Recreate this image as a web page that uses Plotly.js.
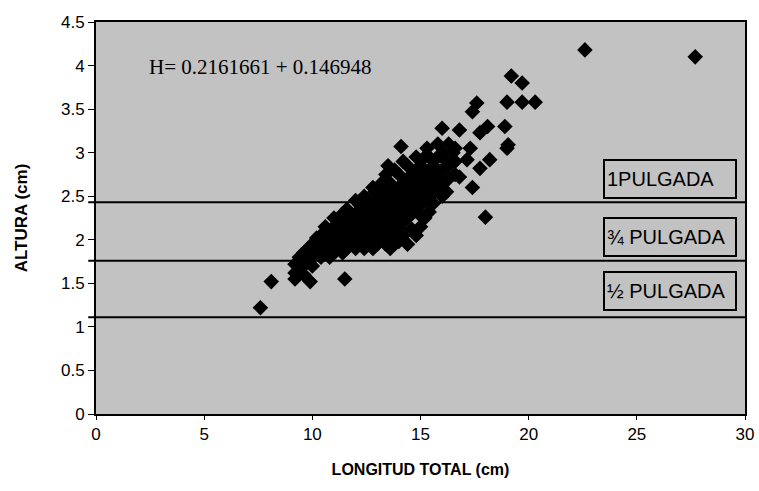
<!DOCTYPE html>
<html>
<head>
<meta charset="utf-8">
<script src="https://cdn.plot.ly/plotly-3.0.1.min.js"></script>
<style>html,body{margin:0;padding:0;background:#fff;}#chart{width:759px;height:491px;}</style>
</head>
<body>
<div id="chart"></div>
<script>
// Longitud total (cm)
const longitud = [
  7.6, 8.1, 9.2, 9.9, 11.5, 22.6, 27.7, 19.2, 19.7, 17.6, 17.4, 19.0, 19.7, 20.3,
  16.0, 16.8, 17.75, 18.1, 18.9, 19.05, 19.0, 14.1, 17.3, 18.2, 17.75, 17.4, 18.0,
  13.5, 12.9, 17.15, 16.8, 15.3, 15.2, 16.2, 16.5, 15.8,
  9.2, 9.2, 9.4, 9.4, 9.6, 9.6, 9.6, 9.8, 9.8, 10.0, 10.0, 10.0, 10.2, 10.2,
  10.4, 10.4, 10.4, 10.6, 10.6, 10.6, 10.8, 10.8, 10.8,
  11.0, 11.0, 11.0, 11.0, 11.2, 11.2, 11.2, 11.4, 11.4, 11.4, 11.4,
  11.6, 11.6, 11.6, 11.6, 11.8, 11.8, 11.8,
  12.0, 12.0, 12.0, 12.0, 12.0, 12.2, 12.2, 12.2, 12.2,
  12.4, 12.4, 12.4, 12.4, 12.4, 12.6, 12.6, 12.6, 12.6,
  12.8, 12.8, 12.8, 12.8, 12.8, 12.8, 13.0, 13.0, 13.0, 13.0, 13.0,
  13.2, 13.2, 13.2, 13.2, 13.2, 13.4, 13.4, 13.4, 13.4, 13.4, 13.4,
  13.6, 13.6, 13.6, 13.6, 13.6, 13.8, 13.8, 13.8, 13.8, 13.8,
  14.0, 14.0, 14.0, 14.0, 14.0, 14.2, 14.2, 14.2, 14.2, 14.2,
  14.4, 14.4, 14.4, 14.4, 14.4, 14.6, 14.6, 14.6, 14.6,
  14.8, 14.8, 14.8, 14.8, 14.8, 15.0, 15.0, 15.0, 15.0,
  15.2, 15.2, 15.2, 15.4, 15.4, 15.4, 15.4, 15.6, 15.6, 15.6,
  15.8, 15.8, 15.8, 16.0, 16.0, 16.0, 16.0, 16.3, 16.3, 16.3, 16.6, 16.6, 16.6,
  13.6, 13.8, 14.0, 14.2, 14.4, 14.8, 15.0, 15.2, 15.4, 15.6, 14.6, 15.0, 16.2
];
// Altura (cm)
const altura = [
  1.22, 1.52, 1.55, 1.52, 1.55, 4.18, 4.10, 3.88, 3.80, 3.57, 3.47, 3.58, 3.58, 3.58,
  3.28, 3.26, 3.23, 3.30, 3.30, 3.09, 3.05, 3.07, 3.05, 2.92, 2.82, 2.60, 2.26,
  2.85, 2.55, 2.92, 2.72, 3.05, 2.95, 2.90, 3.00, 3.10,
  1.62, 1.72, 1.65, 1.80, 1.70, 1.85, 1.60, 1.75, 1.90, 1.80, 1.95, 1.70, 1.85, 2.02,
  1.80, 1.95, 2.05, 1.85, 2.00, 2.15, 1.80, 1.95, 2.10,
  1.85, 2.00, 2.15, 2.25, 1.90, 2.05, 2.20, 1.85, 2.00, 2.15, 2.30,
  1.90, 2.05, 2.20, 2.35, 1.95, 2.10, 2.25,
  1.90, 2.00, 2.15, 2.30, 2.45, 1.95, 2.10, 2.25, 2.40,
  1.90, 2.05, 2.20, 2.35, 2.50, 1.95, 2.10, 2.25, 2.40,
  1.90, 2.00, 2.15, 2.30, 2.45, 2.60, 1.95, 2.10, 2.25, 2.40, 2.55,
  2.00, 2.15, 2.30, 2.45, 2.65, 1.95, 2.10, 2.25, 2.40, 2.55, 2.75,
  2.05, 2.20, 2.35, 2.50, 2.65, 2.10, 2.25, 2.40, 2.55, 2.80,
  2.15, 2.30, 2.45, 2.60, 2.75, 2.20, 2.35, 2.50, 2.65, 2.90,
  2.25, 2.40, 2.55, 2.70, 2.85, 2.30, 2.45, 2.60, 2.75,
  2.35, 2.50, 2.65, 2.80, 2.95, 2.40, 2.55, 2.70, 2.85,
  2.45, 2.60, 2.75, 2.50, 2.65, 2.80, 2.95, 2.55, 2.70, 2.85,
  2.60, 2.75, 2.95, 2.50, 2.65, 2.80, 3.00, 2.70, 2.85, 3.10, 2.75, 2.90, 3.05,
  1.90, 1.95, 1.98, 2.05, 1.95, 2.05, 2.15, 2.25, 2.32, 2.42, 2.12, 2.28, 2.55
];
// Reference heights (cm) for mesh sizes
const umbrales = [2.43, 1.76, 1.11];
const etiquetas = ['1PULGADA', '¾ PULGADA', '½ PULGADA'];
const ecuacion = 'H= 0.2161661 + 0.146948';

const xTicks = [0, 5, 10, 15, 20, 25, 30];
const yTicks = [0, 0.5, 1, 1.5, 2, 2.5, 3, 3.5, 4, 4.5];

const trace = {
  x: longitud, y: altura, type: 'scatter', mode: 'markers',
  marker: {symbol: 'diamond', size: 12, color: '#000'},
  hoverinfo: 'x+y', showlegend: false
};

const shapes = umbrales.map(v => ({
  type: 'line', xref: 'paper', yref: 'y', x0: -0.012, x1: 1, y0: v, y1: v,
  line: {color: '#000', width: 2}
}));

const boxBottoms = [0.548, 0.40, 0.262];
const annotations = etiquetas.map((t, i) => ({
  text: t, xref: 'paper', yref: 'paper', x: 0.781, y: boxBottoms[i],
  xanchor: 'left', yanchor: 'bottom', showarrow: false, align: 'left',
  width: 126, height: 32, borderpad: 2, bordercolor: '#000', borderwidth: 2,
  font: {family: 'Liberation Sans, Arial, sans-serif', size: 20, color: '#000'}
}));
annotations.push({
  text: ecuacion, xref: 'paper', yref: 'paper', x: 0.079, y: 0.885,
  xanchor: 'left', yanchor: 'middle', showarrow: false,
  font: {family: 'Liberation Serif, Times New Roman, serif', size: 21, color: '#000'}
});

const layout = {
  width: 759, height: 491,
  margin: {l: 96, r: 14, t: 22, b: 77},
  paper_bgcolor: '#fff', plot_bgcolor: '#c2c2c2',
  font: {family: 'Liberation Sans, Arial, sans-serif', color: '#000'},
  xaxis: {
    range: [0, 30], tickvals: xTicks, ticktext: xTicks.map(String),
    ticks: 'outside', ticklen: 4, tickcolor: '#000', tickwidth: 1,
    showgrid: false, zeroline: false, showline: true, linecolor: '#000', linewidth: 2, mirror: true,
    tickfont: {size: 17}, fixedrange: true,
    title: {text: 'LONGITUD TOTAL (cm)', font: {size: 16, weight: 'bold'}, standoff: 20}
  },
  yaxis: {
    range: [0, 4.5], tickvals: yTicks, ticktext: yTicks.map(String),
    ticks: 'outside', ticklen: 6, tickcolor: '#000', tickwidth: 1,
    showgrid: false, zeroline: false, showline: true, linecolor: '#000', linewidth: 2, mirror: true,
    tickfont: {size: 17}, fixedrange: true,
    title: {text: 'ALTURA (cm)', font: {size: 17, weight: 'bold'}, standoff: 29}
  },
  shapes: shapes,
  annotations: annotations
};

Plotly.newPlot('chart', [trace], layout, {displayModeBar: false, staticPlot: true});
</script>
</body>
</html>
